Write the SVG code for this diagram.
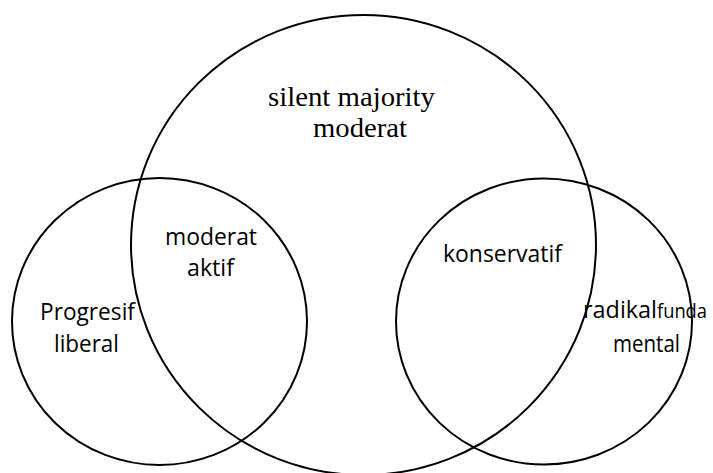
<svg xmlns="http://www.w3.org/2000/svg" width="713" height="473" viewBox="0 0 713 473">
<style>
.c{fill:none;stroke:#000;stroke-width:2}
.s{font-family:"Liberation Serif","Times New Roman",serif;font-size:27px;fill:#000}
.a{font-family:"Open Sans","Liberation Sans",Arial,sans-serif;font-size:23px;fill:#000}
</style>
<rect width="713" height="473" fill="#fff"/>
<g id="connectors"/>
<g id="big">
<ellipse class="c" cx="363.5" cy="245" rx="232.5" ry="230"/>
<text class="s" x="268" y="106" textLength="167" lengthAdjust="spacingAndGlyphs">silent majority</text>
<text class="s" x="313" y="137" textLength="94" lengthAdjust="spacingAndGlyphs">moderat</text>
</g>
<g id="left">
<ellipse class="c" cx="159.5" cy="321.5" rx="147.5" ry="143.5"/>
<text class="a" x="40" y="320" textLength="95" lengthAdjust="spacingAndGlyphs">Progresif</text>
<text class="a" x="54" y="352" textLength="65" lengthAdjust="spacingAndGlyphs">liberal</text>
<text class="a" x="165" y="245" textLength="92" lengthAdjust="spacingAndGlyphs">moderat</text>
<text class="a" x="187" y="276" textLength="47" lengthAdjust="spacingAndGlyphs">aktif</text>
</g>
<g id="right">
<ellipse class="c" cx="544" cy="321.5" rx="148" ry="143"/>
<text class="a" x="443" y="262" textLength="119" lengthAdjust="spacingAndGlyphs">konservatif</text>
<text class="a" x="583" y="318"><tspan textLength="74" lengthAdjust="spacingAndGlyphs">radikal</tspan><tspan font-size="20" textLength="50" lengthAdjust="spacingAndGlyphs">funda</tspan></text>
<text class="a" x="613" y="352" font-size="22" textLength="67" lengthAdjust="spacingAndGlyphs">mental</text>
</g>
</svg>
